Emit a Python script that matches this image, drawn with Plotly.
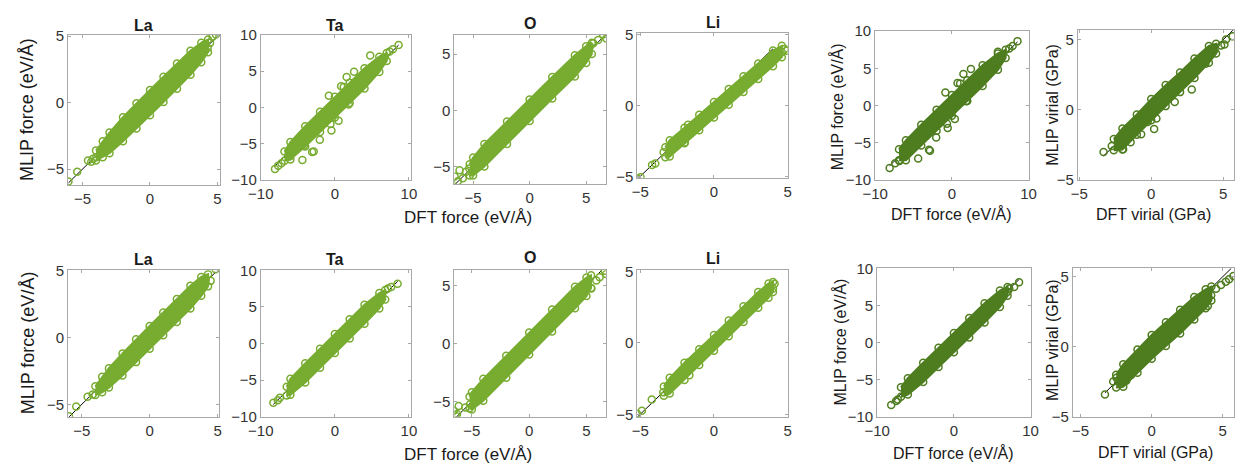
import plotly.graph_objects as go

# ---------------------------------------------------------------------------
# Parity data: DFT reference (x) vs MLIP prediction (y).
# *_BAND_X / *_BAND_LO / *_BAND_HI : envelope of the dense point cloud
# *_PTS_X / *_PTS_Y                : sparse points (tails and outliers)
# *_LINE                           : extent of the y = x reference line
# ---------------------------------------------------------------------------

# Row 1 -- La
LA1_BAND_X = [-4.0, -3.5, -3.0, -2.0, -1.0, 0.0, 1.0, 2.0, 3.0, 3.8, 4.3]
LA1_BAND_LO = [-4.35, -4.1, -3.8, -2.9, -1.95, -0.95, 0.05, 1.05, 2.1, 3.05, 3.8]
LA1_BAND_HI = [-3.6, -2.9, -2.25, -1.1, -0.05, 0.95, 1.95, 2.95, 3.9, 4.5, 4.75]
LA1_PTS_X = [-6.04, -5.39, -4.59, -4.22, -3.98, -4.35, 4.03, 4.27, 4.64, 4.88, 4.45]
LA1_PTS_Y = [-5.93, -5.2, -4.36, -4.23, -4.11, -4.45, 4.36, 4.12, 4.97, 5.13, 4.5]
LA1_LINE = [-6.04, 4.88]

# Row 1 -- Ta
TA1_BAND_X = [-6.8, -6.0, -4.0, -2.0, 0.0, 2.0, 4.0, 6.0, 7.0]
TA1_BAND_LO = [-7.4, -7.2, -5.4, -3.4, -1.4, 0.6, 2.6, 4.9, 6.4]
TA1_BAND_HI = [-6.1, -4.8, -2.6, -0.6, 1.45, 3.4, 5.4, 7.0, 7.5]
TA1_PTS_X = [4.77, 2.59, 1.59, 0.85, 1.2, -0.81, 1.86, -0.59, -0.46, 0.5, -2.03, -3.07,
             -2.85, -4.38, -4.16, -6.04, -8.08, -7.2, -7.65, 8.6, 7.82, 7.39, 6.73]
TA1_PTS_Y = [7.16, 4.93, 4.18, 2.93, 2.8, 1.6, 0.4, -2.31, -3.2, -1.87, -4.49, -6.17,
             -6.09, -7.29, -5.29, -6.76, -8.53, -7.73, -8.09, 8.62, 8.04, 7.73, 6.93]
TA1_LINE = [-8.08, 8.6]

# Row 1 -- O
O1_BAND_X = [-5.3, -5.0, -4.0, -2.0, 0.0, 2.0, 4.0, 5.0, 5.5]
O1_BAND_LO = [-5.8, -5.8, -5.0, -3.0, -0.95, 1.05, 3.0, 4.2, 5.0]
O1_BAND_HI = [-4.8, -4.2, -3.0, -1.0, 0.95, 2.95, 4.9, 5.7, 6.0]
O1_PTS_X = [-6.64, -6.35, -5.91, -6.2, -5.63, -5.34, 6.49, 6.78, 6.06, 5.63, 5.34]
O1_PTS_Y = [-5.9, -6.32, -6.04, -5.33, -5.47, -5.18, 6.73, 6.38, 6.24, 5.96, 5.67]
O1_LINE = [-6.64, 6.78]

# Row 1 -- Li
LI1_BAND_X = [-3.3, -3.0, -2.0, -1.0, 0.0, 1.0, 2.0, 3.0, 4.0, 4.6]
LI1_BAND_LO = [-3.65, -3.6, -2.67, -1.76, -0.86, 0.05, 0.95, 1.86, 2.77, 3.4]
LI1_BAND_HI = [-2.95, -2.45, -1.57, -0.66, 0.24, 1.15, 2.05, 2.96, 3.87, 4.2]
LI1_PTS_X = [-5.2, -4.98, -4.2, -3.98, -3.42, -1.98, -1.76, 4.8, 4.91, 4.6]
LI1_PTS_Y = [-5.16, -5.07, -4.2, -4.09, -3.3, -2.62, -1.36, 3.97, 3.86, 3.75]
LI1_LINE = [-5.2, 4.0]

# Row 1 -- all forces
F1_BAND_X = [-6.9, -6.0, -4.0, -2.0, 0.0, 2.0, 4.0, 6.0, 7.0]
F1_BAND_LO = [-7.4, -7.4, -5.4, -3.4, -1.4, 0.6, 2.6, 4.8, 6.4]
F1_BAND_HI = [-5.9, -4.7, -2.6, -0.6, 1.4, 3.4, 5.4, 7.0, 7.5]
F1_PTS_X = [5.99, 2.48, 1.5, 0.73, 1.07, -0.85, 1.84, 0.38, -0.64, -0.55, -2.05, -2.99,
            -2.86, -4.4, -8.12, -7.4, -6.84, 8.55, 7.91, 7.48]
F1_PTS_Y = [7.23, 4.89, 4.24, 3.03, 2.95, 1.73, 0.56, -1.82, -2.47, -3.03, -4.33, -5.97,
            -6.1, -7.14, -8.44, -7.79, -7.49, 8.66, 8.01, 7.66]
F1_LINE = [-8.12, 8.55]

# Row 1 -- virial
V1_BAND_X = [-2.6, -2.0, -1.0, 0.0, 1.0, 2.0, 3.0, 4.0, 4.5]
V1_BAND_LO = [-2.9, -2.85, -1.8, -0.75, 0.25, 1.25, 2.25, 3.35, 4.0]
V1_BAND_HI = [-2.1, -1.35, -0.35, 0.75, 1.75, 2.65, 3.65, 4.55, 4.7]
V1_PTS_X = [-3.31, -2.74, -1.95, -1.43, -0.7, 0.2, 0.36, -0.25, 1.63, 2.81, 3.76,
            5.65, 5.19, 4.85, 5.08, 4.4]
V1_PTS_Y = [-3.02, -2.6, -2.83, -2.33, -1.75, -1.38, -0.64, -0.88, 0.55, 1.43, 3.27,
            5.23, 5.0, 4.58, 4.65, 4.26]
V1_LINE = [-3.31, 5.75]

# Row 2 -- La
LA2_BAND_X = [-4.0, -3.5, -3.0, -2.0, -1.0, 0.0, 1.0, 2.0, 3.0, 3.8, 4.3]
LA2_BAND_LO = [-4.3, -4.1, -3.75, -2.85, -1.85, -0.85, 0.15, 1.15, 2.15, 3.1, 3.8]
LA2_BAND_HI = [-3.65, -2.95, -2.3, -1.2, -0.15, 0.85, 1.85, 2.85, 3.85, 4.5, 4.7]
LA2_PTS_X = [-5.94, -5.41, -4.57, -4.2, 4.86, 4.13, 4.49]
LA2_PTS_Y = [-5.88, -5.16, -4.43, -4.26, 5.07, 4.28, 4.21]
LA2_LINE = [-5.94, 4.86]

# Row 2 -- Ta
TA2_BAND_X = [-6.5, -6.0, -4.0, -2.0, 0.0, 2.0, 4.0, 6.0, 6.8]
TA2_BAND_LO = [-7.1, -7.0, -5.3, -3.3, -1.3, 0.7, 2.7, 4.8, 6.0]
TA2_BAND_HI = [-5.9, -4.8, -2.7, -0.7, 1.3, 3.3, 5.3, 6.9, 7.3]
TA2_PTS_X = [-8.3, -7.42, -7.7, 8.47, 7.16, 7.6, 6.3]
TA2_PTS_Y = [-8.07, -7.41, -7.75, 8.16, 7.5, 7.72, 6.4]
TA2_LINE = [-8.3, 8.47]

# Row 2 -- O
O2_BAND_X = [-5.2, -5.0, -4.0, -2.0, 0.0, 2.0, 4.0, 5.0, 5.4]
O2_BAND_LO = [-5.6, -5.7, -4.95, -2.95, -0.95, 1.05, 3.05, 4.1, 4.8]
O2_BAND_HI = [-4.6, -4.2, -3.05, -1.05, 0.95, 2.95, 4.9, 5.7, 5.9]
O2_PTS_X = [-6.58, -6.29, -6.15, -5.57, -5.15, -6.43, 6.58, 6.72, 6.15, 5.86, 5.43]
O2_PTS_Y = [-5.81, -6.08, -5.39, -5.53, -5.25, -6.22, 6.28, 6.0, 5.72, 5.44, 4.75]
O2_LINE = [-6.58, 6.72]

# Row 2 -- Li
LI2_BAND_X = [-3.4, -3.0, -2.0, -1.0, 0.0, 1.0, 2.0, 3.0, 3.7, 4.0]
LI2_BAND_LO = [-3.7, -3.55, -2.6, -1.55, -0.55, 0.45, 1.45, 2.45, 3.15, 3.55]
LI2_BAND_HI = [-3.05, -2.45, -1.4, -0.45, 0.55, 1.55, 2.55, 3.55, 4.15, 4.25]
LI2_PTS_X = [-5.22, -4.89, -4.22, -3.44, -1.67, -1.71, 3.0, 4.11, 4.0]
LI2_PTS_Y = [-4.97, -4.75, -3.96, -3.46, -2.27, -1.37, 3.24, 4.13, 3.8]
LI2_LINE = [-5.22, 4.11]

# Row 2 -- all forces
F2_BAND_X = [-6.9, -6.0, -4.0, -2.0, 0.0, 2.0, 4.0, 6.0, 7.0]
F2_BAND_LO = [-7.3, -7.0, -5.3, -3.3, -1.3, 0.7, 2.7, 4.8, 6.3]
F2_BAND_HI = [-6.0, -4.8, -2.7, -0.7, 1.3, 3.3, 5.3, 7.0, 7.5]
F2_PTS_X = [-8.17, -7.53, -7.31, 8.5, 7.86, 7.22, 7.01]
F2_PTS_Y = [-8.4, -7.88, -7.66, 8.14, 7.49, 7.27, 6.84]
F2_LINE = [-8.17, 8.5]

# Row 2 -- virial
V2_BAND_X = [-2.5, -2.0, -1.0, 0.0, 1.0, 2.0, 3.0, 3.8, 4.2]
V2_BAND_LO = [-2.9, -2.85, -1.85, -0.85, 0.05, 0.95, 1.95, 2.75, 3.3]
V2_BAND_HI = [-2.0, -1.25, -0.2, 0.85, 1.75, 2.65, 3.55, 4.1, 4.3]
V2_PTS_X = [-3.29, -2.71, -2.37, -2.48, -1.79, -1.45, 5.75, 5.45, 5.22, 4.88, 4.53, 4.19, 3.95]
V2_PTS_Y = [-3.4, -2.48, -2.43, -2.21, -2.43, -2.02, 5.06, 4.83, 4.65, 4.41, 4.14, 3.68, 2.92]
V2_LINE = [-3.29, 5.6]

TITLES = ["La", "Ta", "O", "Li"]
TICKS_FORCE_WIDE = [-10, -5, 0, 5, 10]
TICKS_5 = [-5, 0, 5]
TICKS_10 = [-10, 0, 10]

# ---------------------------------------------------------------------------
W, H = 1247, 474
LIGHT = "#77AC30"
DARK = "#4E7D1F"
FRAME = "#a8a8a8"
FONT = "Liberation Sans, Arial, sans-serif"
TICKFONT = dict(family=FONT, size=15, color="#333333")

# (band_x, lo, hi, pts_x, pts_y, line, frame px [x0, x1, y0, y1], xrange, yrange, xticks, yticks, colour)
panels = [
    (LA1_BAND_X, LA1_BAND_LO, LA1_BAND_HI, LA1_PTS_X, LA1_PTS_Y, LA1_LINE, (56, 211, 27, 183),
     [-6.07, 5.22], [-6.23, 5.09], TICKS_5, TICKS_5, LIGHT),
    (TA1_BAND_X, TA1_BAND_LO, TA1_BAND_HI, TA1_PTS_X, TA1_PTS_Y, TA1_LINE, (252, 405, 27, 177),
     [-10, 10.3], [-10, 10], TICKS_10, TICKS_FORCE_WIDE, LIGHT),
    (O1_BAND_X, O1_BAND_LO, O1_BAND_HI, O1_PTS_X, O1_PTS_Y, O1_LINE, (449, 603, 27, 182),
     [-6.65, 6.74], [-6.6, 6.69], TICKS_5, TICKS_5, LIGHT),
    (LI1_BAND_X, LI1_BAND_LO, LI1_BAND_HI, LI1_PTS_X, LI1_PTS_Y, LI1_LINE, (635, 788, 25, 175),
     [-5.2, 5.0], [-5.1, 5.1], TICKS_5, TICKS_5, LIGHT),
    (F1_BAND_X, F1_BAND_LO, F1_BAND_HI, F1_PTS_X, F1_PTS_Y, F1_LINE, (877, 1033, 23, 177),
     [-10, 10], [-10, 10], TICKS_10, TICKS_FORCE_WIDE, DARK),
    (V1_BAND_X, V1_BAND_LO, V1_BAND_HI, V1_PTS_X, V1_PTS_Y, V1_LINE, (1083, 1242, 22, 177),
     [-5.1, 5.75], [-5, 5.67], TICKS_5, TICKS_5, DARK),
    (LA2_BAND_X, LA2_BAND_LO, LA2_BAND_HI, LA2_PTS_X, LA2_PTS_Y, LA2_LINE, (56, 210, 271, 423),
     [-6.01, 5.14], [-5.93, 5.0], TICKS_5, TICKS_5, LIGHT),
    (TA2_BAND_X, TA2_BAND_LO, TA2_BAND_HI, TA2_PTS_X, TA2_PTS_Y, TA2_LINE, (252, 405, 271, 423),
     [-10, 10.3], [-10, 10], TICKS_10, TICKS_FORCE_WIDE, LIGHT),
    (O2_BAND_X, O2_BAND_LO, O2_BAND_HI, O2_PTS_X, O2_PTS_Y, O2_LINE, (449, 603, 271, 423),
     [-6.52, 6.69], [-6.33, 6.33], TICKS_5, TICKS_5, LIGHT),
    (LI2_BAND_X, LI2_BAND_LO, LI2_BAND_HI, LI2_PTS_X, LI2_PTS_Y, LI2_LINE, (635, 788, 271, 423),
     [-5.2, 5.0], [-5.18, 5.07], TICKS_5, TICKS_5, LIGHT),
    (F2_BAND_X, F2_BAND_LO, F2_BAND_HI, F2_PTS_X, F2_PTS_Y, F2_LINE, (879, 1035, 269, 423),
     [-10, 10], [-10, 10], TICKS_10, TICKS_FORCE_WIDE, DARK),
    (V2_BAND_X, V2_BAND_LO, V2_BAND_HI, V2_PTS_X, V2_PTS_Y, V2_LINE, (1078, 1242, 269, 423),
     [-5.55, 5.8], [-5.0, 5.6], TICKS_5, TICKS_5, DARK),
]

fig = go.Figure()
layout = dict(
    width=W, height=H, margin=dict(l=0, r=0, t=0, b=0),
    paper_bgcolor="white", plot_bgcolor="white", showlegend=False,
)

for i, (bx, lo, hi, px, py, span, frame, xr, yr, xt, yt, col) in enumerate(panels, start=1):
    xa, ya = f"x{i}", f"y{i}"
    x0, x1, y0, y1 = frame
    circle = dict(symbol="circle-open", size=7, color=col, line=dict(width=1.5, color=col))

    # y = x reference line
    fig.add_trace(go.Scatter(x=span, y=span, mode="lines",
                             line=dict(color="black", width=1), xaxis=xa, yaxis=ya,
                             hoverinfo="skip"))
    # dense cloud envelope
    fig.add_trace(go.Scatter(x=list(bx) + list(bx)[::-1], y=list(hi) + list(lo)[::-1],
                             mode="lines", fill="toself", fillcolor=col,
                             line=dict(color=col, width=2), xaxis=xa, yaxis=ya,
                             hoverinfo="skip"))
    # circles along the cloud edges
    fig.add_trace(go.Scatter(x=list(bx) + list(bx), y=list(hi) + list(lo), mode="markers",
                             marker=circle, xaxis=xa, yaxis=ya))
    # sparse points
    fig.add_trace(go.Scatter(x=px, y=py, mode="markers", marker=circle,
                             xaxis=xa, yaxis=ya))

    axis_common = dict(showgrid=False, zeroline=False, showline=True, linecolor=FRAME,
                       linewidth=1, mirror="allticks", ticks="inside", ticklen=3,
                       tickcolor=FRAME, tickfont=TICKFONT)
    layout[f"xaxis{i}"] = dict(domain=[x0 / W, x1 / W], range=xr, tickvals=xt,
                               anchor=ya, **axis_common)
    layout[f"yaxis{i}"] = dict(domain=[1 - y1 / H, 1 - y0 / H], range=yr, tickvals=yt,
                               anchor=xa, **axis_common)

fig.update_layout(**layout)

ann = []


def label(text, x, y, size, angle=0, bold=False):
    ann.append(dict(text=f"<b>{text}</b>" if bold else text, x=x / W, y=1 - y / H,
                    xref="paper", yref="paper", showarrow=False, textangle=angle,
                    xanchor="center", yanchor="middle",
                    font=dict(family=FONT, size=size, color="#1a1a1a")))


for name, cx, ty_top, ty_bot in zip(TITLES, [133, 328, 526, 712], [17, 17, 15, 14],
                                    [260, 260, 258, 259]):
    label(name, cx, ty_top, 16, bold=True)
    label(name, cx, ty_bot, 16, bold=True)

label("MLIP force (eV/Å)", 15, 104, 18, angle=-90)
label("MLIP force (eV/Å)", 15, 346, 18, angle=-90)
label("DFT force (eV/Å)", 463, 216, 17)
label("DFT force (eV/Å)", 463, 462, 17)

label("MLIP force (eV/Å)", 838, 101, 16, angle=-90)
label("MLIP force (eV/Å)", 841, 345, 16, angle=-90)
label("MLIP virial (GPa)", 1057, 99, 16, angle=-90)
label("MLIP virial (GPa)", 1057, 343, 16, angle=-90)
label("DFT force (eV/Å)", 955, 213, 16)
label("DFT force (eV/Å)", 957, 460, 16)
label("DFT virial (GPa)", 1160, 213, 16)
label("DFT virial (GPa)", 1162, 460, 16)

fig.update_layout(annotations=ann)
fig.write_html("out.html")
